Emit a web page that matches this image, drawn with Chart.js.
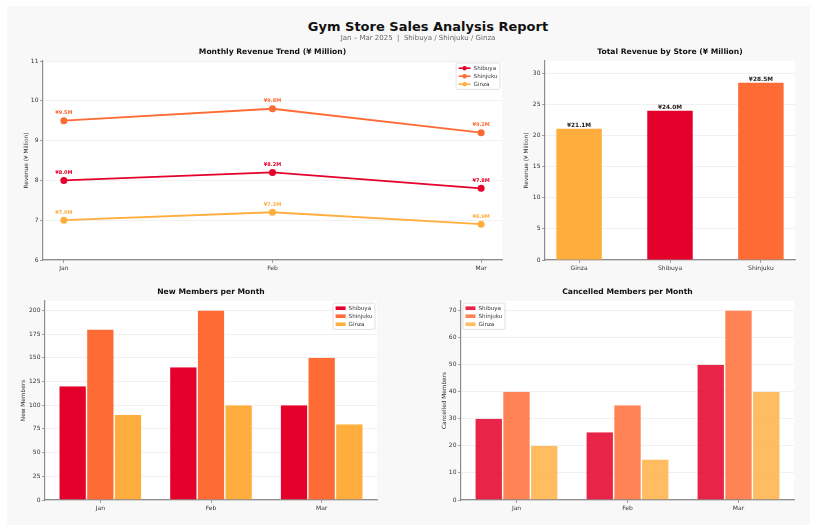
<!DOCTYPE html>
<html><head><meta charset="utf-8">
<script src="https://cdn.jsdelivr.net/npm/chart.js@4.4.1/dist/chart.umd.min.js"></script>
<style>
html,body{margin:0;padding:0;background:#fff;}
body{width:817px;height:530px;position:relative;overflow:hidden;font-family:"DejaVu Sans",sans-serif;-webkit-font-smoothing:antialiased;}
#card{position:absolute;left:7px;top:6px;width:803px;height:519px;background:#f8f8f8;}
.cv{position:absolute;}
#title{position:absolute;left:228px;width:400px;top:19px;line-height:15px;text-align:center;font-weight:bold;font-size:13px;color:#111;white-space:nowrap;}
#subtitle{position:absolute;left:218px;width:400px;top:34px;line-height:9px;text-align:center;font-size:7px;color:#666;white-space:nowrap;opacity:0.999;will-change:transform;}
</style></head>
<body>
<div id="card"></div>
<div id="title">Gym Store Sales Analysis Report</div>
<div id="subtitle">Jan – Mar 2025 &nbsp;|&nbsp; Shibuya / Shinjuku / Ginza</div>
<canvas id="c1" class="cv" width="510" height="240" style="left:0px;top:40px;width:510px;height:240px"></canvas>
<canvas id="c2" class="cv" width="307" height="240" style="left:510px;top:40px;width:307px;height:240px"></canvas>
<canvas id="c3" class="cv" width="408" height="240" style="left:0px;top:280px;width:408px;height:240px"></canvas>
<canvas id="c4" class="cv" width="409" height="240" style="left:408px;top:280px;width:409px;height:240px"></canvas>
<script>
// ---- data ----
const months = ['Jan', 'Feb', 'Mar'];
const stores = ['Shibuya', 'Shinjuku', 'Ginza'];
const revShibuya = [8.0, 8.2, 7.8];
const revShinjuku = [9.5, 9.8, 9.2];
const revGinza = [7.0, 7.2, 6.9];
const totalStores = ['Ginza', 'Shibuya', 'Shinjuku'];
const totalRevenue = [21.1, 24.0, 28.5];
const newShibuya = [120, 140, 100];
const newShinjuku = [180, 200, 150];
const newGinza = [90, 100, 80];
const cancelShibuya = [30, 25, 50];
const cancelShinjuku = [40, 35, 70];
const cancelGinza = [20, 15, 40];

// ---- styles ----
const C = { Shibuya: '#E4002B', Shinjuku: '#FF6B35', Ginza: '#FFAD3D' };
const CA = { Shibuya: 'rgba(228,0,43,0.86)', Shinjuku: 'rgba(255,107,53,0.84)', Ginza: 'rgba(255,173,61,0.82)' };
const FONT = '"DejaVu Sans", sans-serif';
const AXIS = '#8c8c8c';
const GRID = 'rgba(0,0,0,0.07)';

Chart.defaults.font.family = FONT;
Chart.defaults.color = '#333';
Chart.defaults.animation = false;

const areaBg = {
  id: 'areaBg',
  beforeDraw(chart) {
    const a = chart.chartArea, ctx = chart.ctx;
    ctx.save(); ctx.fillStyle = '#ffffff';
    ctx.fillRect(a.left, a.top, a.right - a.left, a.bottom - a.top);
    ctx.restore();
  }
};

const valueLabels = {
  id: 'valueLabels',
  afterDatasetsDraw(chart, args, opts) {
    if (!opts || !opts.display) return;
    const ctx = chart.ctx;
    chart.data.datasets.forEach((ds, di) => {
      const meta = chart.getDatasetMeta(di);
      meta.data.forEach((el, i) => {
        const raw = ds.data[i];
        const v = (typeof raw === 'object') ? raw.y : raw;
        ctx.save();
        ctx.font = 'bold ' + opts.fontSize + 'px ' + FONT;
        ctx.fillStyle = opts.color || ds.borderColor;
        ctx.textAlign = 'center';
        ctx.textBaseline = 'bottom';
        ctx.fillText('¥' + v.toFixed(1) + 'M', el.x, el.y - opts.offset);
        ctx.restore();
      });
    });
  }
};

const insideLegend = {
  id: 'insideLegend',
  afterDatasetsDraw(chart, args, opts) {
    if (!opts || !opts.display) return;
    const ctx = chart.ctx, a = chart.chartArea;
    ctx.save();
    ctx.font = opts.fontSize + 'px ' + FONT;
    const items = chart.data.datasets.map(d => ({ label: d.label, color: d.legendColor }));
    const textW = Math.max(...items.map(i => ctx.measureText(i.label).width));
    const w = opts.padX + opts.sampleW + opts.gap + textW + opts.padX;
    const h = opts.padY * 2 + opts.rowH * items.length;
    const x = opts.corner === 'tl' ? a.left + opts.margin : a.right - opts.margin - w;
    const y = a.top + opts.margin;
    ctx.fillStyle = 'rgba(255,255,255,0.85)';
    ctx.strokeStyle = '#d4d4d4';
    ctx.lineWidth = 0.7;
    ctx.beginPath();
    ctx.roundRect(x, y, w, h, 1.5);
    ctx.fill(); ctx.stroke();
    items.forEach((it, i) => {
      const cy = y + opts.padY + opts.rowH * (i + 0.5);
      const sx = x + opts.padX;
      if (opts.type === 'line') {
        ctx.strokeStyle = it.color; ctx.lineWidth = 1.6;
        ctx.beginPath(); ctx.moveTo(sx, cy); ctx.lineTo(sx + opts.sampleW, cy); ctx.stroke();
        ctx.fillStyle = it.color;
        ctx.beginPath(); ctx.arc(sx + opts.sampleW / 2, cy, 2.2, 0, Math.PI * 2); ctx.fill();
      } else {
        ctx.fillStyle = it.color;
        ctx.fillRect(sx, cy - 1.8, opts.sampleW, 3.6);
      }
      ctx.fillStyle = '#333';
      ctx.textAlign = 'left';
      ctx.textBaseline = 'middle';
      ctx.fillText(it.label, sx + opts.sampleW + opts.gap, cy + 0.3);
    });
    ctx.restore();
  }
};

function titleOpts(text) {
  return {
    display: true, text: text, fullSize: false, color: '#111',
    font: { size: 7.6, weight: 'bold', family: FONT, lineHeight: 1.2 },
    padding: { top: 7.7, bottom: 4.2 }
  };
}
function yScale(min, max, step, width, title, titlePad) {
  return {
    min: min, max: max,
    afterFit(s) { s.width = width; },
    afterBuildTicks(s) { s.ticks = s.ticks.filter(t => Math.abs(t.value / step - Math.round(t.value / step)) < 1e-6); },
    ticks: { stepSize: step, font: { size: 6 }, color: '#333', padding: 1.5 },
    grid: { color: GRID, lineWidth: 0.8, tickColor: AXIS, tickLength: 3, tickWidth: 0.8 },
    border: { color: AXIS, width: 1.2 },
    title: { display: true, text: title, font: { size: 5.8 }, color: '#333', padding: { top: titlePad, bottom: 0 } }
  };
}
const xTickFont = { size: 6 };
const legendBase = { display: true, fontSize: 5.6, rowH: 8, padY: 1.2, padX: 2.5, gap: 3, margin: 2 };

// ---- Panel 1: monthly revenue trend ----
const lineSeries = [['Shibuya', revShibuya], ['Shinjuku', revShinjuku], ['Ginza', revGinza]];
new Chart(document.getElementById('c1'), {
  type: 'line',
  data: {
    datasets: lineSeries.map(([name, vals]) => ({
      label: name,
      data: vals.map((v, i) => ({ x: i, y: v })),
      borderColor: C[name], backgroundColor: C[name], legendColor: C[name],
      borderWidth: 1.8, pointRadius: 2.6, pointHoverRadius: 2.6, tension: 0
    }))
  },
  options: {
    responsive: false, devicePixelRatio: 1,
    layout: { padding: { left: 0, right: 8, top: 0, bottom: 0 } },
    plugins: {
      legend: { display: false }, tooltip: { enabled: false },
      title: titleOpts('Monthly Revenue Trend (¥ Million)'),
      valueLabels: { display: true, fontSize: 5, offset: 5.2 },
      insideLegend: Object.assign({}, legendBase, { corner: 'tr', type: 'line', sampleW: 12 })
    },
    scales: {
      x: {
        type: 'linear', min: -0.1, max: 2.1, offset: false,
        afterFit(s) { s.height = 20; },
        afterBuildTicks(s) { s.ticks = months.map((m, i) => ({ value: i })); },
        ticks: { callback: v => months[v], font: xTickFont, color: '#333', padding: 2, maxRotation: 0 },
        grid: { display: true, drawOnChartArea: false, color: AXIS, tickColor: AXIS, tickLength: 3, lineWidth: 0.8 },
        border: { color: AXIS, width: 1.2 }
      },
      y: yScale(6, 11, 1, 43, 'Revenue (¥ Million)', 23)
    }
  },
  plugins: [areaBg, valueLabels, insideLegend]
});

// ---- Panel 2: total revenue by store ----
new Chart(document.getElementById('c2'), {
  type: 'bar',
  data: {
    datasets: [{
      label: 'Total',
      data: totalRevenue.map((v, i) => ({ x: i, y: v })),
      backgroundColor: totalStores.map(s => C[s]),
      barPercentage: 0.5, categoryPercentage: 1.0, borderWidth: 0
    }]
  },
  options: {
    responsive: false, devicePixelRatio: 1,
    layout: { padding: { left: 0, right: 22, top: 0, bottom: 0 } },
    plugins: {
      legend: { display: false }, tooltip: { enabled: false },
      title: titleOpts('Total Revenue by Store (¥ Million)'),
      valueLabels: { display: true, fontSize: 5.8, offset: 0.6, color: '#222' }
    },
    scales: {
      x: {
        type: 'linear', min: -0.375, max: 2.375, offset: false,
        afterFit(s) { s.height = 20; },
        afterBuildTicks(s) { s.ticks = totalStores.map((m, i) => ({ value: i })); },
        ticks: { callback: v => totalStores[v], font: xTickFont, color: '#333', padding: 2, maxRotation: 0 },
        grid: { display: true, offset: false, drawOnChartArea: false, color: AXIS, tickColor: AXIS, tickLength: 3, lineWidth: 0.8 },
        border: { color: AXIS, width: 1.2 }
      },
      y: yScale(0, 32, 5, 35, 'Revenue (¥ Million)', 13.2)
    }
  },
  plugins: [areaBg, valueLabels]
});

// ---- Panels 3 & 4: grouped bars ----
function grouped(id, title, series, colors, max, step, yw, ytitle, ypad, rightPad, corner) {
  new Chart(document.getElementById(id), {
    type: 'bar',
    data: {
      labels: months,
      datasets: series.map(([name, vals]) => ({
        label: name, data: vals,
        backgroundColor: colors[name], legendColor: colors[name],
        borderColor: 'rgba(255,255,255,0.9)', borderWidth: { left: 0.7, right: 0.7, top: 0, bottom: 0 },
        barPercentage: 1.0, categoryPercentage: 0.75
      }))
    },
    options: {
      responsive: false, devicePixelRatio: 1,
      layout: { padding: { left: 0, right: rightPad, top: 0, bottom: 0 } },
      plugins: {
        legend: { display: false }, tooltip: { enabled: false },
        title: titleOpts(title),
        insideLegend: Object.assign({}, legendBase, { corner: corner, type: 'patch', sampleW: 10 })
      },
      scales: {
        x: {
          afterFit(s) { s.height = 20; },
          ticks: { font: xTickFont, color: '#333', padding: 2, maxRotation: 0 },
          grid: { display: true, offset: false, drawOnChartArea: false, color: AXIS, tickColor: AXIS, tickLength: 3, lineWidth: 0.8 },
          border: { color: AXIS, width: 1.2 }
        },
        y: yScale(0, max, step, yw, ytitle, ypad)
      }
    },
    plugins: [areaBg, insideLegend]
  });
}
grouped('c3', 'New Members per Month',
  [['Shibuya', newShibuya], ['Shinjuku', newShinjuku], ['Ginza', newGinza]],
  C, 210, 25, 45, 'New Members', 19.8, 31, 'tr');
grouped('c4', 'Cancelled Members per Month',
  [['Shibuya', cancelShibuya], ['Shinjuku', cancelShinjuku], ['Ginza', cancelGinza]],
  CA, 73.5, 10, 53, 'Cancelled Members', 32.8, 23, 'tl');
</script>
</body></html>
